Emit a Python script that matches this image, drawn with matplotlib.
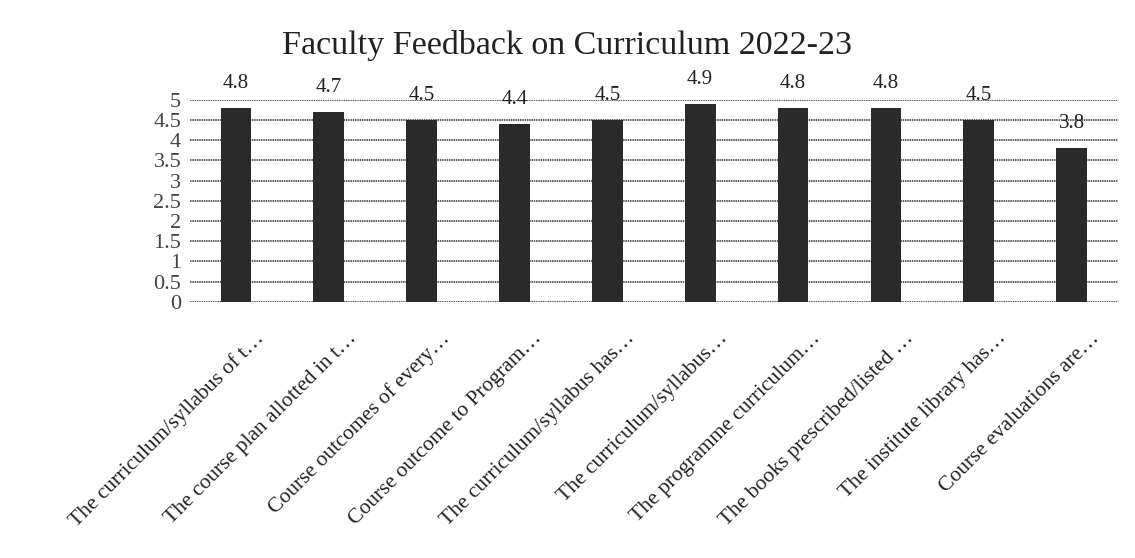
import matplotlib.pyplot as plt
import matplotlib.transforms as mtransforms
import numpy as np

categories = [
    "The curriculum/syllabus of t…",
    "The course plan allotted in t…",
    "Course outcomes of every…",
    "Course outcome to Program…",
    "The curriculum/syllabus has…",
    "The curriculum/syllabus…",
    "The programme curriculum…",
    "The books prescribed/listed …",
    "The institute library has…",
    "Course evaluations are…",
]
scores = [4.8, 4.7, 4.5, 4.4, 4.5, 4.9, 4.8, 4.8, 4.5, 3.8]
yticks = [0, 0.5, 1, 1.5, 2, 2.5, 3, 3.5, 4, 4.5, 5]
title = "Faculty Feedback on Curriculum 2022-23"

plt.rcParams['font.family'] = ['Liberation Serif', 'DejaVu Serif']

fig = plt.figure(figsize=(11.35, 5.58), dpi=100)
ax = fig.add_axes([0.167, 0.459, 0.818, 0.362])

x = np.arange(len(categories))
ax.bar(x, scores, width=0.33, color='#2a2a2a', zorder=3)

for xi, v in zip(x, scores):
    ax.annotate(f"{v}", (xi, v), xytext=(0, 11), textcoords='offset points',
                ha='center', va='bottom', fontsize=15, color='#222222')

ax.set_xlim(-0.5, len(categories) - 0.5)
ax.set_ylim(0, 5)
ax.set_yticks(yticks)
ax.set_yticklabels([f"{t:g}" for t in yticks], fontsize=16, color='#444444')
ax.yaxis.grid(True, color='#333333', linewidth=1.1, linestyle=(0, (1, 0.5)), zorder=0)
ax.tick_params(axis='both', length=0)
ax.tick_params(axis='y', pad=6)
for s in ax.spines.values():
    s.set_visible(False)

ax.set_xticks(x)
ax.set_xticklabels(categories, rotation=45, ha='right', va='top',
                   rotation_mode='anchor', fontsize=15.5, color='#222222')
offset = mtransforms.ScaledTranslation(18 / 100, -22 / 100, fig.dpi_scale_trans)
for lbl in ax.get_xticklabels():
    lbl.set_transform(lbl.get_transform() + offset)

fig.text(0.5, 0.918, title, ha='center', va='center', fontsize=24.5, color='#222222')

fig.savefig("out.png", dpi=100)
